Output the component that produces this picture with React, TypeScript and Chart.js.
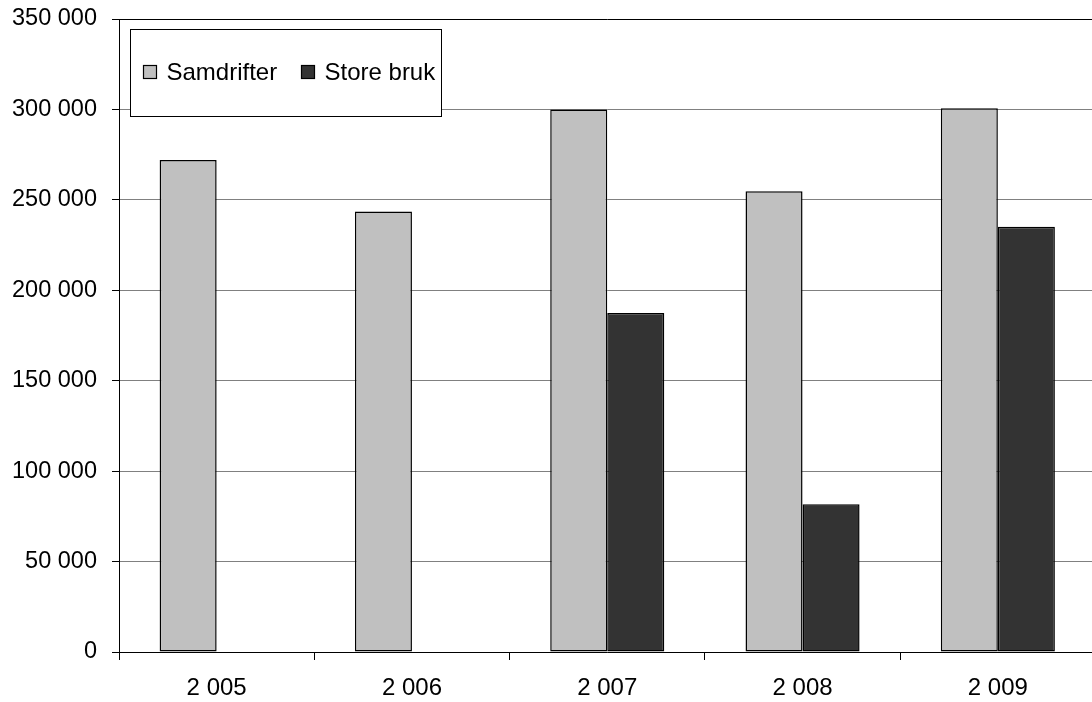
import React, { useEffect, useRef } from "react";
import { Chart, registerables } from "chart.js";

Chart.register(...registerables);

const years: string[] = ["2 005", "2 006", "2 007", "2 008", "2 009"];
const samdrifter: (number | null)[] = [272100, 243500, 300000, 254700, 300700];
const storeBruk: (number | null)[] = [null, null, 187400, 81700, 235100];
const seriesLabels: string[] = ["Samdrifter", "Store bruk"];
const seriesColors: string[] = ["#C0C0C0", "#333333"];
const yMax = 350000;
const yStep = 50000;

const FONT = "'Liberation Sans', Arial, sans-serif";

const fmt = (v: number) => String(v).replace(/\B(?=(\d{3})+(?!\d))/g, " ");

const legendBox = {
  id: "legendBox",
  afterDraw(chart: any) {
    const ctx = chart.ctx;
    ctx.save();
    const x0 = 130.5, y0 = 29.5, w = 311, h = 87;
    ctx.fillStyle = "#fff";
    ctx.fillRect(x0, y0, w, h);
    ctx.strokeStyle = "#000";
    ctx.lineWidth = 1;
    ctx.strokeRect(x0, y0, w, h);
    const itemsX = [143.5, 301.5];
    ctx.font = `24px ${FONT}`;
    ctx.textBaseline = "middle";
    ctx.textAlign = "left";
    chart.data.datasets.forEach((ds: any, i: number) => {
      const sx = itemsX[i];
      ctx.fillStyle = ds.backgroundColor;
      ctx.fillRect(sx, 65.5, 13, 13);
      ctx.strokeStyle = "#000";
      ctx.lineWidth = 1.2;
      ctx.strokeRect(sx, 65.5, 13, 13);
      ctx.fillStyle = "#000";
      ctx.fillText(ds.label, sx + 23, 73);
    });
    ctx.restore();
  },
};

export default function App() {
  const ref = useRef<HTMLCanvasElement | null>(null);
  useEffect(() => {
    if (!ref.current) return;
    const chart = new Chart(ref.current, {
      type: "bar",
      data: {
        labels: years,
        datasets: [
          {
            label: seriesLabels[0],
            data: samdrifter,
            backgroundColor: seriesColors[0],
            borderColor: "#000",
            borderWidth: 1.5,
            borderSkipped: false,
          },
          {
            label: seriesLabels[1],
            data: storeBruk,
            backgroundColor: seriesColors[1],
            borderColor: "#000",
            borderWidth: 1.5,
            borderSkipped: false,
          },
        ],
      },
      options: {
        responsive: false,
        animation: false,
        layout: { padding: { left: 0, top: 19, right: 4.5, bottom: 0 } },
        datasets: {
          bar: { categoryPercentage: 0.584, barPercentage: 1 },
        },
        plugins: {
          legend: { display: false },
          tooltip: { enabled: false },
        },
        scales: {
          x: {
            grid: {
              offset: true,
              drawOnChartArea: false,
              tickLength: 8,
              color: "#000",
              tickColor: "#000",
            },
            border: { display: true, color: "#000", width: 1 },
            ticks: {
              color: "#000",
              font: { family: FONT, size: 24 },
              padding: 14,
              maxRotation: 0,
            },
            afterFit(scale: any) {
              scale.height = 50;
              scale.paddingLeft = 0;
              scale.paddingRight = 0;
            },
          },
          y: {
            min: 0,
            max: yMax,
            grid: {
              tickLength: 7,
              color: (c: any) =>
                c.tick && c.tick.value === yMax ? "#000" : "#808080",
              tickColor: "#000",
            },
            border: { display: true, color: "#000", width: 1 },
            ticks: {
              stepSize: yStep,
              color: "#000",
              font: { family: FONT, size: 23.5 },
              padding: 15,
              callback: (v: any) => fmt(Number(v)),
            },
            afterFit(scale: any) {
              scale.width = 119;
              scale.paddingTop = 0;
              scale.paddingBottom = 0;
            },
          },
        },
      },
      plugins: [legendBox],
    });
    return () => chart.destroy();
  }, []);
  return (
    <div
      style={{
        position: "fixed",
        left: 0,
        top: 0,
        width: 1092,
        height: 702,
        overflow: "hidden",
        background: "#fff",
      }}
    >
      <canvas ref={ref} width={1100} height={702} style={{ width: 1100, height: 702, display: "block" }} />
    </div>
  );
}
